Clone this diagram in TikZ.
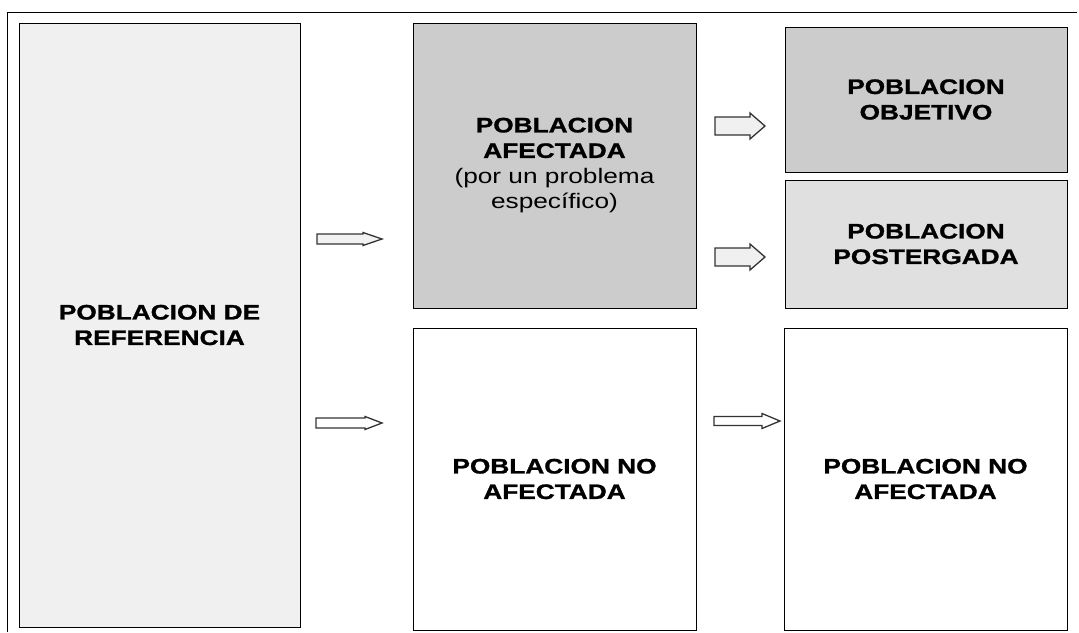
\documentclass[tikz,border=0pt]{standalone}
\usepackage{fontspec}
\setmainfont{Liberation Sans}[FakeStretch=1.25, BoldFeatures={FakeBold=1.2}]
\usetikzlibrary{positioning}

\begin{document}
\begin{tikzpicture}[x=1pt, y=-1pt,
        box/.style={draw, line width=0.8pt, inner sep=0pt, align=center,
                    font=\fontsize{21}{25.5}\selectfont\bfseries},
        arrline/.style={draw=black!80, line width=1.3pt, line join=miter},
        pics/barrow/.style n args={4}{code={
            \draw[arrline, pic actions] (0,-#2) -- ({#1-#4},-#2) -- ({#1-#4},-#3) -- (#1,0)
                -- ({#1-#4},#3) -- ({#1-#4},#2) -- (0,#2) -- cycle;
        }}
    ]
        \useasboundingbox (0,0) rectangle (1079,632);
        % outer frame
        \draw[line width=1pt] (7,632) -- (7,12) -- (1077,12);

        \node[box, fill=gray!12, minimum width=281pt, minimum height=604pt] (ref) at (159.5,325) {POBLACION DE\\REFERENCIA};
        \node[box, fill=gray!40, minimum width=283pt, minimum height=285pt] (afec) at (554.5,165.5)
            {POBLACION\\AFECTADA\\\mdseries(por un problema\\\mdseries espec\'ifico)};
        \node[box, fill=gray!40, minimum width=282pt, minimum height=145pt] (obj) at (926,99.5) {POBLACION\\OBJETIVO};
        \node[box, fill=gray!24, minimum width=282pt, minimum height=128pt] (post) at (926,244) {POBLACION\\POSTERGADA};
        \node[box, fill=white, minimum width=283pt, minimum height=302pt] (noafec) at (554.5,479) {POBLACION NO\\AFECTADA};
        \node[box, fill=white, minimum width=283pt, minimum height=302pt] (noafec2) at (925.5,479) {POBLACION NO\\AFECTADA};

        % block arrows
        \pic[fill=gray!10] (a1) at (317,239) {barrow={65}{5}{6.5}{19}};
        \pic[fill=white]   (a2) at (316,423) {barrow={66}{5}{6.5}{17}};
        \pic[fill=gray!12] (a3) at (715,126) {barrow={50}{9}{13}{15}};
        \pic[fill=gray!12] (a4) at (715,257) {barrow={50}{9}{13}{15}};
        \pic[fill=white]   (a5) at (714,421) {barrow={66}{4.5}{7.5}{18}};
    \end{tikzpicture}
\end{document}
